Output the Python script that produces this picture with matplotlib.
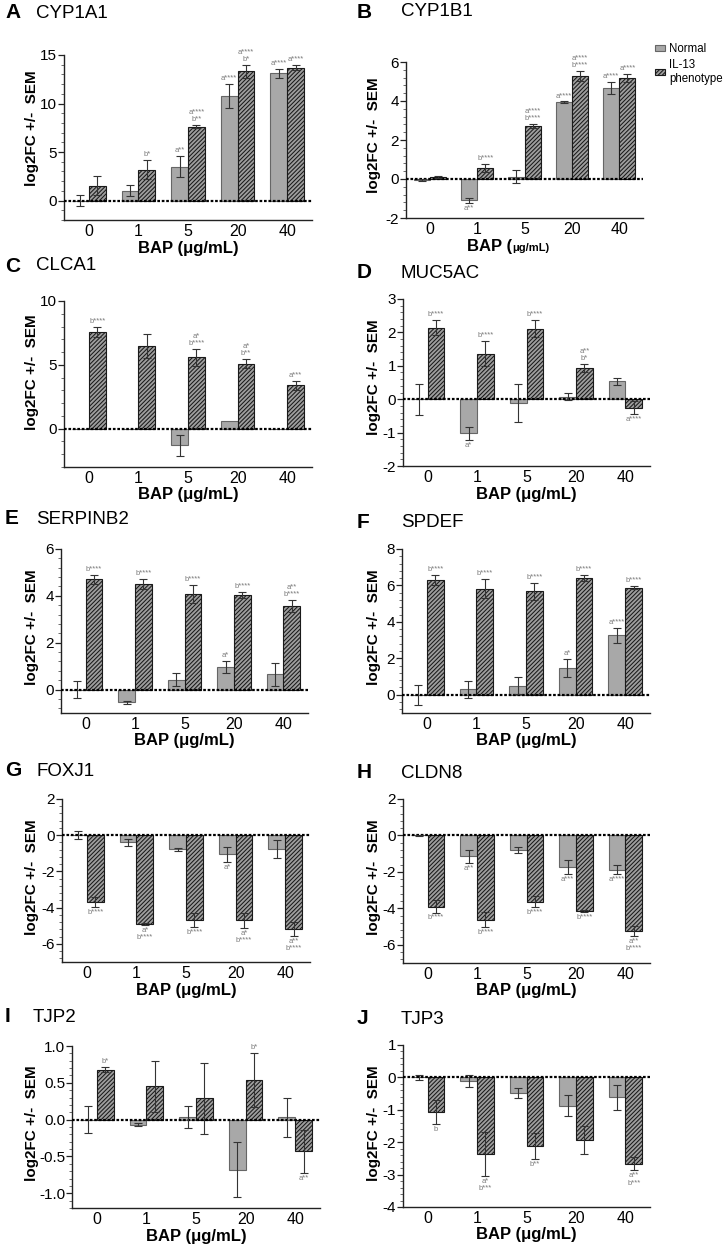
import numpy as np
import matplotlib.pyplot as plt
from matplotlib.ticker import AutoMinorLocator, FormatStrFormatter
from matplotlib.patches import Patch

plt.rcParams['font.family'] = ['Liberation Sans', 'DejaVu Sans']
plt.rcParams['hatch.linewidth'] = 0.75
plt.rcParams['axes.unicode_minus'] = False

doses = ["0", "1", "5", "20", "40"]

# CYP1A1
cyp1a1_normal = [0.0, 1.03, 3.5, 10.8, 13.1]
cyp1a1_normal_sem = [0.6, 0.6, 1.05, 1.25, 0.5]
cyp1a1_il13 = [1.55, 3.2, 7.6, 13.3, 13.7]
cyp1a1_il13_sem = [1.0, 1.0, 0.15, 0.65, 0.25]
cyp1a1_normal_sig = ["", "", "a**", "a****", "a****"]
cyp1a1_il13_sig = ["", "b*", "a****\nb**", "a****\nb*", "a****"]

# CYP1B1
cyp1b1_normal = [-0.05, -1.1, 0.12, 3.95, 4.67]
cyp1b1_normal_sem = [0.07, 0.12, 0.35, 0.03, 0.3]
cyp1b1_il13 = [0.1, 0.57, 2.73, 5.3, 5.2]
cyp1b1_il13_sem = [0.06, 0.2, 0.1, 0.25, 0.2]
cyp1b1_normal_sig = ["", "a**", "", "a****", "a****"]
cyp1b1_il13_sig = ["", "b****", "a****\nb****", "a****\nb****", "a****"]

# CLCA1
clca1_normal = [0.0, 0.0, -1.3, 0.58, 0.0]
clca1_normal_sem = [0.0, 0.0, 0.8, 0.0, 0.0]
clca1_il13 = [7.6, 6.45, 5.58, 5.1, 3.41]
clca1_il13_sem = [0.4, 0.95, 0.66, 0.35, 0.35]
clca1_normal_sig = ["", "", "", "", ""]
clca1_il13_sig = ["b****", "", "a*\nb****", "a*\nb**", "a***"]

# MUC5AC
muc5ac_normal = [0.0, -1.02, -0.1, 0.08, 0.53]
muc5ac_normal_sem = [0.47, 0.2, 0.57, 0.1, 0.09]
muc5ac_il13 = [2.14, 1.36, 2.11, 0.92, -0.25]
muc5ac_il13_sem = [0.23, 0.38, 0.25, 0.12, 0.2]
muc5ac_normal_sig = ["", "a*", "", "", ""]
muc5ac_il13_sig = ["b****", "b****", "b****", "a**\nb*", "a****"]

# SERPINB2
serpinb2_normal = [0.0, -0.55, 0.42, 0.97, 0.65]
serpinb2_normal_sem = [0.35, 0.07, 0.27, 0.27, 0.5]
serpinb2_il13 = [4.7, 4.51, 4.09, 4.03, 3.56]
serpinb2_il13_sem = [0.2, 0.22, 0.38, 0.14, 0.25]
serpinb2_normal_sig = ["", "", "", "a*", ""]
serpinb2_il13_sig = ["b****", "b****", "b****", "b****", "a**\nb****"]

# SPDEF
spdef_normal = [0.0, 0.3, 0.5, 1.47, 3.26]
spdef_normal_sem = [0.55, 0.47, 0.48, 0.47, 0.4]
spdef_il13 = [6.28, 5.83, 5.67, 6.4, 5.88]
spdef_il13_sem = [0.27, 0.5, 0.48, 0.15, 0.1]
spdef_normal_sig = ["", "", "", "a*", "a****"]
spdef_il13_sig = ["b****", "b****", "b****", "b****", "b****"]

# FOXJ1
foxj1_normal = [0.0, -0.4, -0.78, -1.05, -0.76]
foxj1_normal_sem = [0.22, 0.18, 0.1, 0.42, 0.52]
foxj1_il13 = [-3.69, -4.9, -4.67, -4.69, -5.18]
foxj1_il13_sem = [0.28, 0.05, 0.4, 0.42, 0.37]
foxj1_normal_sig = ["", "", "", "a*", ""]
foxj1_il13_sig = ["b****", "a*\nb****", "b****", "a*\nb****", "a**\nb****"]

# CLDN8
cldn8_normal = [0.0, -1.15, -0.82, -1.74, -1.88]
cldn8_normal_sem = [0.05, 0.37, 0.16, 0.39, 0.24]
cldn8_il13 = [-3.9, -4.63, -3.64, -4.13, -5.23]
cldn8_il13_sem = [0.33, 0.42, 0.29, 0.05, 0.28]
cldn8_normal_sig = ["", "a**", "", "a***", "a****"]
cldn8_il13_sig = ["b****", "b****", "b****", "b****", "a**\nb****"]

# TJP2
tjp2_normal = [0.0, -0.07, 0.03, -0.68, 0.03]
tjp2_normal_sem = [0.185, 0.02, 0.15, 0.37, 0.26]
tjp2_il13 = [0.68, 0.45, 0.29, 0.54, -0.43]
tjp2_il13_sem = [0.03, 0.34, 0.48, 0.37, 0.29]
tjp2_normal_sig = ["", "", "", "", ""]
tjp2_il13_sig = ["b*", "", "", "b*", "a**"]

# TJP3
tjp3_normal = [0.0, -0.12, -0.49, -0.87, -0.61]
tjp3_normal_sem = [0.08, 0.19, 0.15, 0.33, 0.39]
tjp3_il13 = [-1.06, -2.37, -2.13, -1.93, -2.66]
tjp3_il13_sem = [0.37, 0.67, 0.4, 0.44, 0.21]
tjp3_normal_sig = ["", "", "", "", ""]
tjp3_il13_sig = ["b", "a*\nb***", "b**", "", "a**\nb***"]

W, H = 726, 1247

# letter, gene, data, ylim, yticks, axes box in px (left, top, right, bottom), title y, ylabel centre y
panels = [
    ("A", "CYP1A1", (cyp1a1_normal, cyp1a1_normal_sem, cyp1a1_il13, cyp1a1_il13_sem,
                     cyp1a1_normal_sig, cyp1a1_il13_sig),
     (-2, 15), [0, 5, 10, 15], (64, 55, 312, 220), 13, 128),
    ("B", "CYP1B1", (cyp1b1_normal, cyp1b1_normal_sem, cyp1b1_il13, cyp1b1_il13_sem,
                     cyp1b1_normal_sig, cyp1b1_il13_sig),
     (-2, 6), [-2, 0, 2, 4, 6], (406, 62, 643, 218), 12, 135),
    ("C", "CLCA1", (clca1_normal, clca1_normal_sem, clca1_il13, clca1_il13_sem,
                    clca1_normal_sig, clca1_il13_sig),
     (-3, 10), [0, 5, 10], (64, 301, 312, 467), 266, 372),
    ("D", "MUC5AC", (muc5ac_normal, muc5ac_normal_sem, muc5ac_il13, muc5ac_il13_sem,
                     muc5ac_normal_sig, muc5ac_il13_sig),
     (-2, 3), [-2, -1, 0, 1, 2, 3], (403, 299, 650, 466), 273, 377),
    ("E", "SERPINB2", (serpinb2_normal, serpinb2_normal_sem, serpinb2_il13, serpinb2_il13_sem,
                       serpinb2_normal_sig, serpinb2_il13_sig),
     (-1, 6), [0, 2, 4, 6], (61, 549, 308, 713), 519, 627),
    ("F", "SPDEF", (spdef_normal, spdef_normal_sem, spdef_il13, spdef_il13_sem,
                    spdef_normal_sig, spdef_il13_sig),
     (-1, 8), [0, 2, 4, 6, 8], (402, 549, 650, 713), 522, 627),
    ("G", "FOXJ1", (foxj1_normal, foxj1_normal_sem, foxj1_il13, foxj1_il13_sem,
                    foxj1_normal_sig, foxj1_il13_sig),
     (-7, 2), [-6, -4, -2, 0, 2], (62, 799, 310, 962), 771, 877),
    ("H", "CLDN8", (cldn8_normal, cldn8_normal_sem, cldn8_il13, cldn8_il13_sem,
                    cldn8_normal_sig, cldn8_il13_sig),
     (-7, 2), [-6, -4, -2, 0, 2], (403, 799, 650, 963), 773, 877),
    ("I", "TJP2", (tjp2_normal, tjp2_normal_sem, tjp2_il13, tjp2_il13_sem,
                   tjp2_normal_sig, tjp2_il13_sig),
     (-1.2, 1.0), [-1.0, -0.5, 0.0, 0.5, 1.0], (72, 1046, 320, 1208), 1017, 1123),
    ("J", "TJP3", (tjp3_normal, tjp3_normal_sem, tjp3_il13, tjp3_il13_sem,
                   tjp3_normal_sig, tjp3_il13_sig),
     (-4, 1), [-4, -3, -2, -1, 0, 1], (403, 1045, 650, 1207), 1019, 1123),
]

NORMAL_FACE = '#a8a8a8'
NORMAL_EDGE = '#666666'
IL13_FACE = '#9e9e9e'
IL13_EDGE = '#1a1a1a'
HATCH = '////////'
ERR = '#333333'
SIG = '#7a7a7a'

fig = plt.figure(figsize=(W / 100, H / 100), dpi=100)


def draw_panel(ax, data, ylim, yticks):
    normal, normal_sem, il13, il13_sem, normal_sig, il13_sig = data
    x = np.arange(len(doses))
    w = 0.34
    ax.bar(x - w / 2, normal, w, color=NORMAL_FACE, edgecolor=NORMAL_EDGE,
           linewidth=0.8, zorder=2)
    ax.bar(x + w / 2, il13, w, color=IL13_FACE, edgecolor=IL13_EDGE,
           hatch=HATCH, linewidth=0.8, zorder=2)

    span = ylim[1] - ylim[0]
    pad = span * 0.012
    for xs, vals, sems, sigs in [(x - w / 2, normal, normal_sem, normal_sig),
                                 (x + w / 2, il13, il13_sem, il13_sig)]:
        for xi, v, s, t in zip(xs, vals, sems, sigs):
            if s > 0:
                ax.errorbar(xi, v, yerr=s, fmt='none', ecolor=ERR, elinewidth=0.8,
                            capsize=3.2, capthick=0.8, zorder=4)
            if t:
                if v >= 0:
                    ax.text(xi, v + s + pad, t, ha='center', va='bottom',
                            fontsize=5.5, color=SIG, linespacing=1.05, zorder=5)
                else:
                    ax.text(xi, v - s - pad, t, ha='center', va='top',
                            fontsize=5.5, color=SIG, linespacing=1.05, zorder=5)

    ax.axhline(0, color='black', lw=1.6, ls=(0, (1.2, 0.8)), zorder=3)

    ax.set_xlim(-0.5, len(doses) - 0.5)
    ax.set_ylim(*ylim)
    ax.set_xticks(x)
    ax.set_xticklabels(doses)
    ax.set_yticks(yticks)
    ax.yaxis.set_minor_locator(AutoMinorLocator(5))
    ax.tick_params(axis='x', length=0, labelsize=11.5, pad=3)
    ax.tick_params(axis='y', which='major', length=4, width=0.9, labelsize=11,
                   pad=1, color='#222222')
    ax.tick_params(axis='y', which='minor', length=2, width=0.6, color='#555555')
    for side in ['top', 'right']:
        ax.spines[side].set_visible(False)
    for side in ['left', 'bottom']:
        ax.spines[side].set_linewidth(1.0)
        ax.spines[side].set_color('#222222')
    ax.patch.set_alpha(0)


for letter, gene, data, ylim, yticks, box, title_y, ylab_y in panels:
    l, t, r, b = box
    ax = fig.add_axes([l / W, 1 - b / H, (r - l) / W, (b - t) / H])
    draw_panel(ax, data, ylim, yticks)
    if letter == "I":
        ax.yaxis.set_major_formatter(FormatStrFormatter('%.1f'))

    left_col = l < 200
    letter_x = 5 if left_col else 357
    gene_x = 36 if left_col else 401
    if letter == "I":
        gene_x = 33
    fig.text(letter_x / W, 1 - title_y / H, letter, fontsize=15, fontweight='bold',
             ha='left', va='center')
    fig.text(gene_x / W, 1 - title_y / H, gene, fontsize=13.5,
             ha='left', va='center')

    ylab_x = 32 if left_col else 374
    fig.text(ylab_x / W, 1 - ylab_y / H, "log2FC +/-  SEM", rotation=90,
             fontsize=11, fontweight='bold', ha='center', va='center')

    xlab_y = b + 28
    cx = (l + r) / 2
    if letter == "B":
        fig.text((cx - 12) / W, 1 - xlab_y / H, "BAP (", fontsize=12,
                 fontweight='bold', ha='right', va='center')
        fig.text((cx - 12) / W, 1 - (xlab_y + 2) / H, "\u03bcg/mL)", fontsize=8,
                 fontweight='bold', ha='left', va='center')
    else:
        fig.text(cx / W, 1 - xlab_y / H, "BAP (\u03bcg/mL)", fontsize=12,
                 fontweight='bold', ha='center', va='center')

handles = [Patch(facecolor=NORMAL_FACE, edgecolor=NORMAL_EDGE, linewidth=0.8),
           Patch(facecolor=IL13_FACE, edgecolor=IL13_EDGE, hatch=HATCH, linewidth=0.8)]
fig.legend(handles, ["Normal", "IL-13\nphenotype"], loc='upper left',
           bbox_to_anchor=(655 / W, 1 - 43 / H), frameon=False, fontsize=8.3,
           handlelength=0.9, handleheight=0.45, handletextpad=0.35,
           labelspacing=0.35, borderaxespad=0, borderpad=0)

fig.savefig("out.png", dpi=100)
